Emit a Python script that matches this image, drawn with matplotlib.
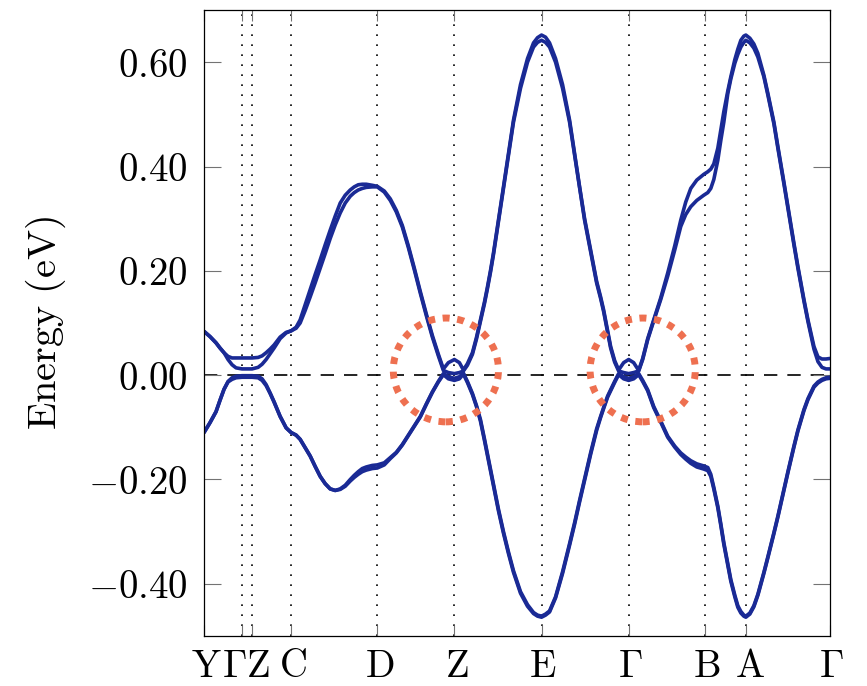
import matplotlib
matplotlib.use('Agg')
import matplotlib.pyplot as plt
import matplotlib.transforms as mtransforms
from matplotlib.patches import Ellipse

plt.rcParams['mathtext.fontset'] = 'cm'
plt.rcParams['font.family'] = 'serif'

# high symmetry points (path length, arbitrary units)
kpt_pos = [0, 38, 48, 87, 173, 250, 337, 424, 500, 541, 625]
kpt_lab = [r'$\mathrm{Y}$', r'$\Gamma$', r'$\mathrm{Z}$', r'$\mathrm{C}$', r'$\mathrm{D}$', r'$\mathrm{Z}$',
           r'$\mathrm{E}$', r'$\Gamma$', r'$\mathrm{B}$', r'$\mathrm{A}$', r'$\Gamma$']
lab_shift = [2, -8, 6, 2, 2, 2, 1, 2, 2, 4, 1]  # px, crowded labels moved by hand

k = [0, 6, 12, 16, 20, 24, 28, 32, 38, 44, 48, 54, 58, 62, 66, 70, 76, 82, 87,
     92, 96, 101, 106, 111, 116, 121, 126, 131, 136, 141, 146, 150, 154, 158, 162, 168, 173,
     180, 186, 192, 198, 204, 210, 216, 222, 228, 234, 239, 244, 250, 255, 259,
     263, 268, 272, 276, 280, 283, 286, 289, 294, 299, 304, 309, 316, 323, 329, 333, 337,
     341, 345, 351, 358, 365, 370, 375, 380, 386, 392, 396, 399, 403, 406, 410, 414, 419, 424, 429, 434,
     438, 443, 449, 456, 463, 470, 476, 481, 486, 492, 499, 503,
     506, 509, 513, 516, 519, 523, 526, 530, 533, 536, 539, 541,
     545, 549, 553, 559, 563, 569, 573, 579, 583, 589, 593, 599, 603, 609, 613, 617, 621, 625]

# conduction pair
c_out = [0.084, 0.074, 0.062, 0.052, 0.043, 0.036, 0.033, 0.033, 0.033, 0.033, 0.033, 0.034, 0.037, 0.043, 0.050, 0.058, 0.073, 0.082, 0.085,
         0.092, 0.106, 0.135, 0.164, 0.193, 0.221, 0.250, 0.278, 0.305, 0.330, 0.345, 0.355, 0.361, 0.365, 0.366, 0.366, 0.364, 0.362,
         0.353, 0.338, 0.316, 0.287, 0.248, 0.205, 0.160, 0.117, 0.076, 0.040, 0.012, 0.024, 0.030, 0.024, 0.010,
         0.022, 0.043, 0.072, 0.106, 0.140, 0.169, 0.200, 0.234, 0.297, 0.361, 0.425, 0.489, 0.557, 0.607, 0.637, 0.647, 0.652,
         0.648, 0.637, 0.607, 0.557, 0.489, 0.425, 0.361, 0.300, 0.240, 0.180, 0.150, 0.125, 0.085, 0.055, 0.028, 0.010, 0.024, 0.030, 0.024, 0.009,
         0.032, 0.070, 0.106, 0.148, 0.196, 0.248, 0.297, 0.332, 0.358, 0.374, 0.385, 0.390,
         0.395, 0.405, 0.435, 0.470, 0.505, 0.545, 0.572, 0.605, 0.625, 0.642, 0.650, 0.652,
         0.646, 0.635, 0.617, 0.575, 0.540, 0.485, 0.438, 0.370, 0.323, 0.253, 0.208, 0.145, 0.106, 0.055, 0.035, 0.031, 0.031, 0.032]
c_in = [0.084, 0.074, 0.062, 0.052, 0.043, 0.030, 0.020, 0.014, 0.012, 0.012, 0.012, 0.015, 0.021, 0.030, 0.041, 0.052, 0.070, 0.081, 0.085,
        0.090, 0.100, 0.124, 0.150, 0.177, 0.205, 0.233, 0.262, 0.288, 0.311, 0.330, 0.343, 0.350, 0.355, 0.358, 0.360, 0.361, 0.361,
        0.351, 0.335, 0.313, 0.284, 0.245, 0.202, 0.157, 0.114, 0.073, 0.037, 0.009, 0.005, 0.003, 0.005, 0.008,
        0.019, 0.040, 0.069, 0.103, 0.137, 0.166, 0.197, 0.231, 0.294, 0.358, 0.422, 0.485, 0.550, 0.600, 0.629, 0.638, 0.642,
        0.638, 0.629, 0.600, 0.550, 0.485, 0.422, 0.358, 0.297, 0.237, 0.177, 0.147, 0.122, 0.082, 0.052, 0.025, 0.008, 0.005, 0.003, 0.005, 0.008,
        0.030, 0.068, 0.104, 0.145, 0.190, 0.240, 0.285, 0.308, 0.323, 0.335, 0.345, 0.350,
        0.358, 0.375, 0.412, 0.450, 0.485, 0.540, 0.568, 0.598, 0.615, 0.629, 0.638, 0.642,
        0.637, 0.627, 0.610, 0.572, 0.537, 0.482, 0.435, 0.367, 0.320, 0.250, 0.205, 0.142, 0.103, 0.050, 0.026, 0.015, 0.012, 0.012]

# valence pair
v_up = [-0.110, -0.091, -0.070, -0.048, -0.027, -0.012, -0.005, -0.002, -0.001, -0.001, -0.001, -0.002, -0.007, -0.018, -0.034, -0.051, -0.079, -0.101, -0.110,
        -0.115, -0.123, -0.139, -0.155, -0.175, -0.194, -0.208, -0.218, -0.221, -0.218, -0.211, -0.200, -0.192, -0.185, -0.179, -0.176, -0.173, -0.172,
        -0.168, -0.158, -0.148, -0.133, -0.115, -0.097, -0.079, -0.055, -0.032, -0.012, 0.003, -0.003, -0.006, -0.003, 0.004,
        -0.012, -0.035, -0.058, -0.085, -0.122, -0.151, -0.180, -0.209, -0.257, -0.300, -0.339, -0.375, -0.415, -0.440, -0.455, -0.460, -0.462,
        -0.458, -0.452, -0.425, -0.377, -0.323, -0.283, -0.240, -0.199, -0.149, -0.103, -0.079, -0.062, -0.040, -0.028, -0.012, 0.003, -0.003, -0.006, -0.003, 0.003,
        -0.010, -0.028, -0.060, -0.088, -0.117, -0.136, -0.149, -0.157, -0.164, -0.170, -0.174, -0.177,
        -0.190, -0.215, -0.251, -0.285, -0.321, -0.362, -0.392, -0.422, -0.442, -0.453, -0.460, -0.462,
        -0.456, -0.442, -0.420, -0.378, -0.348, -0.302, -0.270, -0.219, -0.185, -0.136, -0.105, -0.066, -0.045, -0.021, -0.013, -0.008, -0.005, -0.004]
v_lo = [-0.110, -0.091, -0.070, -0.048, -0.027, -0.013, -0.008, -0.005, -0.004, -0.004, -0.004, -0.005, -0.010, -0.020, -0.035, -0.052, -0.079, -0.101, -0.110,
        -0.115, -0.123, -0.139, -0.155, -0.175, -0.194, -0.208, -0.218, -0.221, -0.219, -0.213, -0.203, -0.196, -0.190, -0.185, -0.182, -0.179, -0.178,
        -0.172, -0.160, -0.149, -0.134, -0.116, -0.098, -0.080, -0.056, -0.033, -0.013, 0.001, -0.007, -0.010, -0.007, 0.002,
        -0.014, -0.037, -0.060, -0.088, -0.125, -0.154, -0.183, -0.212, -0.260, -0.303, -0.342, -0.378, -0.418, -0.443, -0.457, -0.462, -0.464,
        -0.460, -0.454, -0.427, -0.380, -0.326, -0.286, -0.243, -0.202, -0.152, -0.106, -0.081, -0.064, -0.042, -0.030, -0.014, 0.001, -0.007, -0.010, -0.007, 0.001,
        -0.012, -0.030, -0.062, -0.090, -0.119, -0.138, -0.152, -0.161, -0.169, -0.176, -0.180, -0.183,
        -0.194, -0.218, -0.254, -0.288, -0.324, -0.365, -0.395, -0.425, -0.445, -0.456, -0.462, -0.464,
        -0.458, -0.444, -0.422, -0.380, -0.350, -0.304, -0.272, -0.221, -0.187, -0.138, -0.107, -0.068, -0.047, -0.023, -0.015, -0.010, -0.007, -0.006]

bands = [c_out, c_in, v_up, v_lo]
for b in bands:
    assert len(b) == len(k), (len(b), len(k))

# marked crossings: (centre k, centre E)
circles = [(241.5, 0.010), (438, 0.010)]

yticks = [-0.4, -0.2, 0.0, 0.2, 0.4, 0.6]
ytick_lab = [r'$-0.40$', r'$-0.20$', r'$0.00$', r'$0.20$', r'$0.40$', r'$0.60$']

band_col = '#1a2a95'
circ_col = '#ee7050'

fig = plt.figure(figsize=(8.67, 6.86), dpi=100)
ax = fig.add_axes([0.2353, 0.0729, 0.7220, 0.9125])

for p in kpt_pos[1:-1]:
    ax.axvline(p, color='black', linestyle=(0, (1, 5)), linewidth=1.2, zorder=1)
ax.axhline(0, color='black', linestyle=(0, (8, 6)), linewidth=1.2, zorder=1)

for b in bands:
    ax.plot(k, b, color=band_col, linewidth=2.6, solid_joinstyle='round', solid_capstyle='round', zorder=2)

for cx, cy in circles:
    ax.add_patch(Ellipse((cx, cy), 105, 0.199, fill=False, edgecolor=circ_col,
                         linewidth=5, linestyle=(0, (1, 1.1)), capstyle='butt', zorder=3))

ax.set_xlim(0, 625)
ax.set_ylim(-0.5, 0.7)
ax.set_yticks(yticks)
ax.set_yticklabels(ytick_lab, fontsize=28)
ax.set_xticks(kpt_pos)
ax.set_xticklabels(kpt_lab, fontsize=28)
ax.tick_params(axis='y', direction='in', length=12, width=0.8, color='0.45', pad=12, left=True, right=True)
ax.tick_params(axis='x', direction='in', length=8, width=0.8, color='0.45', pad=9, top=True, bottom=True)
for lab, dx in zip(ax.get_xticklabels(), lab_shift):
    lab.set_transform(lab.get_transform() + mtransforms.ScaledTranslation(dx / 100, 0, fig.dpi_scale_trans))
for s in ax.spines.values():
    s.set_linewidth(0.9)

ax.set_ylabel(r'$\mathrm{Energy\ (eV)}$', fontsize=29)
ax.yaxis.set_label_coords(-0.217, 0.5)

fig.savefig('out.png', dpi=100)
